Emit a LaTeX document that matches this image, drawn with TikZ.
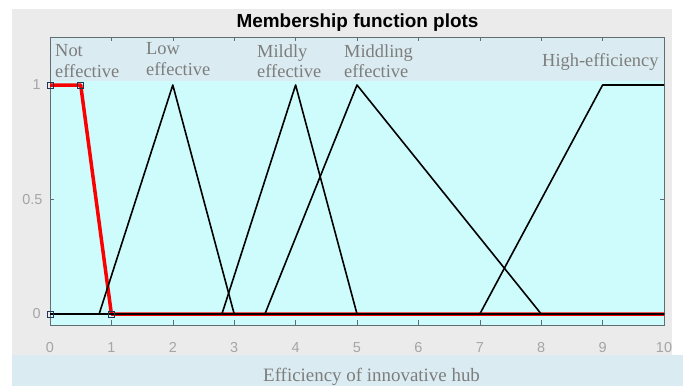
\documentclass[tikz,border=0pt]{standalone}
\usepackage{fontspec}
\setmainfont{Liberation Serif}
\newfontfamily\plotsans{Liberation Sans}
\usepackage{tikz}
\usetikzlibrary{calc}

\definecolor{panel}{RGB}{236,235,236}
\definecolor{band}{RGB}{218,236,242}
\definecolor{plotbg}{RGB}{206,252,252}
\definecolor{lblgray}{RGB}{125,125,125}
\definecolor{tickgray}{RGB}{165,165,165}
\definecolor{axisline}{RGB}{95,110,115}
\definecolor{mfred}{RGB}{250,0,0}
\definecolor{marknavy}{RGB}{30,55,85}

\begin{document}
\begin{tikzpicture}[x=1bp,y=-1bp,
	mflabel/.style={anchor=base west, inner sep=0pt, text=lblgray, font=\fontsize{18.5}{21}\selectfont},
	ticklabel/.style={inner sep=0pt, text=tickgray, font=\plotsans\fontsize{14.5}{17}\selectfont},
	mfline/.style={black, line width=1.6bp, line join=round},
	mfmark/.style={marknavy, line width=0.7bp}]
	\useasboundingbox (0,0) rectangle (683,386);
	\fill[white] (0,0) rectangle (683,386);
	\fill[panel] (12,9) rectangle (672,355);
	\fill[band] (12,355) rectangle (683,386);
	\node[anchor=base, inner sep=0pt, font=\plotsans\bfseries\fontsize{19}{22}\selectfont] (title) at (357.5,27.3) {Membership function plots};
	% axes in data units
	\begin{scope}[shift={(50,314)}, x=61.4bp, y=229bp]
	\fill[plotbg] (0,-0.048) rectangle (10,1.017);
	\fill[band] (0,1.017) rectangle (10,1.21);
	\draw[axisline, line width=0.8bp] (0,-0.048) rectangle (10,1.21);
	\foreach \i in {1,...,9} {
		\draw[axisline, line width=0.6bp] (\i,-0.048) -- (\i,-0.028);
		\draw[axisline, line width=0.6bp] (\i,1.21) -- (\i,1.19);
	}
	\draw[axisline, line width=0.6bp] (0,0.5) -- (0.07,0.5);
	\draw[axisline, line width=0.6bp] (10,0.5) -- (9.93,0.5);
	\node[ticklabel] (xl0) at (0,-0.148) {0};
	\node[ticklabel] (xl1) at (1,-0.148) {1};
	\node[ticklabel] (xl2) at (2,-0.148) {2};
	\node[ticklabel] (xl3) at (3,-0.148) {3};
	\node[ticklabel] (xl4) at (4,-0.148) {4};
	\node[ticklabel] (xl5) at (5,-0.148) {5};
	\node[ticklabel] (xl6) at (6,-0.148) {6};
	\node[ticklabel] (xl7) at (7,-0.148) {7};
	\node[ticklabel] (xl8) at (8,-0.148) {8};
	\node[ticklabel] (xl9) at (9,-0.148) {9};
	\node[ticklabel] (xl10) at (10,-0.148) {10};
	\node[ticklabel, anchor=east] (yl0) at (-0.15,0) {0};
	\node[ticklabel, anchor=east] (yl05) at (-0.12,0.5) {0.5};
	\node[ticklabel, anchor=east] (yl1) at (-0.15,1) {1};
	% membership functions
	\draw[mfred, line width=3.5bp, line join=round] (0,1) -- (0.5,1) -- (1,0) -- (10,0);
	\draw[mfline] (0,0) -- (0.8,0) -- (2,1) -- (3,0) -- (10,0);
	\draw[mfline] (0,0) -- (2.8,0) -- (4,1) -- (5,0) -- (10,0);
	\draw[mfline] (0,0) -- (3.5,0) -- (5,1) -- (8,0) -- (10,0);
	\draw[mfline] (0,0) -- (7,0) -- (9,1) -- (10,1);
	\draw[mfmark] (0,1) +(-3bp,-3bp) rectangle +(3bp,3bp);
	\draw[mfmark] (0.5,1) +(-3bp,-3bp) rectangle +(3bp,3bp);
	\draw[mfmark] (0,0) +(-3bp,-3bp) rectangle +(3bp,3bp);
	\draw[mfmark] (1,0) +(-3bp,-3bp) rectangle +(3bp,3bp);
	\end{scope}
	% labels of the sets
	\node[mflabel] (lblnot) at (55,56) {Not};
	\node[mflabel] (lblnotb) at (55,77) {effective};
	\node[mflabel] (lbllow) at (146,54) {Low};
	\node[mflabel] (lbllowb) at (146,75) {effective};
	\node[mflabel] (lblmild) at (257,57) {Mildly};
	\node[mflabel] (lblmildb) at (257,77.5) {effective};
	\node[mflabel] (lblmidd) at (344,57) {Middling};
	\node[mflabel] (lblmiddb) at (344,77.5) {effective};
	\node[mflabel] (lblhigh) at (542,66.7) {High-efficiency};
	\node[mflabel, font=\fontsize{19}{22}\selectfont] (xlabel) at (263,381.5) {Efficiency of innovative hub};
\end{tikzpicture}
\end{document}
